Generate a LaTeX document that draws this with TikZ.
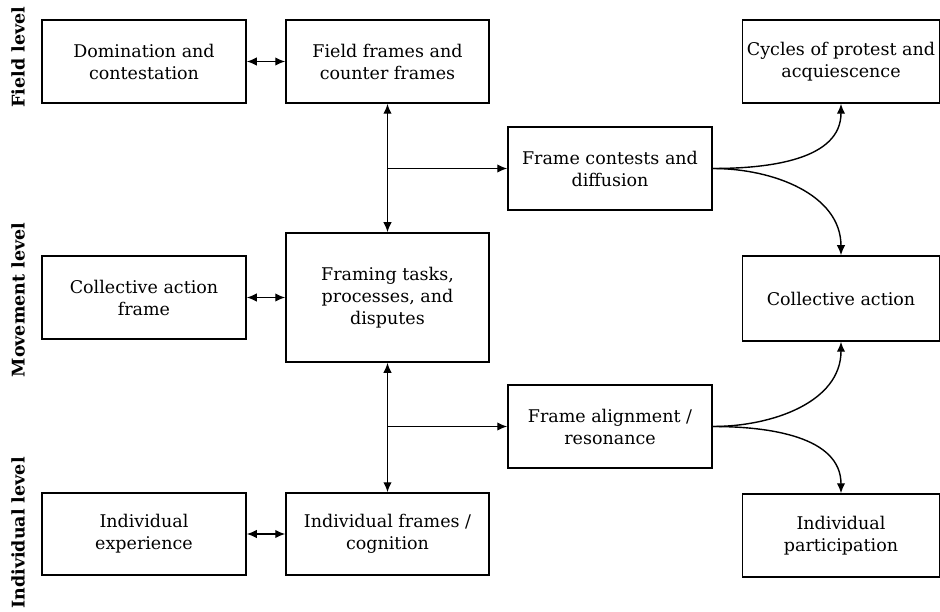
\documentclass[tikz,border=0pt]{standalone}
\usepackage{fontspec}
\setmainfont{DejaVu Serif}
\usetikzlibrary{arrows.meta,calc}
\begin{document}
\begin{tikzpicture}[x=1pt,y=-1pt,
  box/.style={draw,line width=1.5pt,rectangle,align=center,inner sep=0pt,
    font=\fontsize{17.5}{22}\selectfont},
  tip/.tip={Latex[length=10pt,width=8.5pt]},
  conn/.style={line width=1.4pt,-tip},
  biconn/.style={line width=1.4pt,tip-tip},
  lvl/.style={rotate=90,font=\fontsize{17.5}{20}\selectfont\bfseries}]
\useasboundingbox (0,0) rectangle (940,612);

% level labels
\node[lvl] (lf) at (18,57) {Field level};
\node[lvl] (lm) at (18,300) {Movement level};
\node[lvl] (li) at (18,533) {Individual level};

% boxes
\node[box,minimum width=204pt,minimum height=83pt] (dom) at (144,61.5) {Domination and\\contestation};
\node[box,minimum width=203pt,minimum height=83pt] (ff) at (387.5,61.5) {Field frames and\\counter frames};
\node[box,minimum width=197pt,minimum height=83pt] (cyc) at (841,61.5) {Cycles of protest and\\acquiescence};
\node[box,minimum width=204pt,minimum height=83pt] (fc) at (610,168.5) {Frame contests and\\diffusion};
\node[box,minimum width=204pt,minimum height=83pt] (caf) at (144,297.5) {Collective action\\frame};
\node[box,minimum width=203pt,minimum height=129pt] (ft) at (387.5,297.5) {Framing tasks,\\processes, and\\disputes};
\node[box,minimum width=197pt,minimum height=85pt] (ca) at (841,298.5) {Collective action};
\node[box,minimum width=204pt,minimum height=83pt] (fa) at (610,426.5) {Frame alignment /\\resonance};
\node[box,minimum width=204pt,minimum height=82pt] (ie) at (144,534) {Individual\\experience};
\node[box,minimum width=203pt,minimum height=82pt] (ifr) at (387.5,534) {Individual frames /\\cognition};
\node[box,minimum width=197pt,minimum height=83pt] (ip) at (841,535.5) {Individual\\participation};

% horizontal links between each level's left boxes
\draw[biconn] (dom.east) -- (ff.west);
\draw[biconn] (caf.east) -- (ft.west);
\draw[biconn] (ie.east) -- (ifr.west);

% vertical spine and its branches
\draw[biconn] (ff.south) -- (ft.north);
\draw[biconn] (ft.south) -- (ifr.north);
\coordinate (j1) at (ff.south |- fc.west);
\coordinate (j2) at (ft.south |- fa.west);
\draw[conn] (j1) -- (fc.west);
\draw[conn] (j2) -- (fa.west);

% outcomes
\draw[conn] (fc.east) to[out=0,in=-90] (cyc.south);
\draw[conn] (fc.east) to[out=0,in=90] (ca.north);
\draw[conn] (fa.east) to[out=0,in=-90] (ca.south);
\draw[conn] (fa.east) to[out=0,in=90] (ip.north);
\end{tikzpicture}
\end{document}
